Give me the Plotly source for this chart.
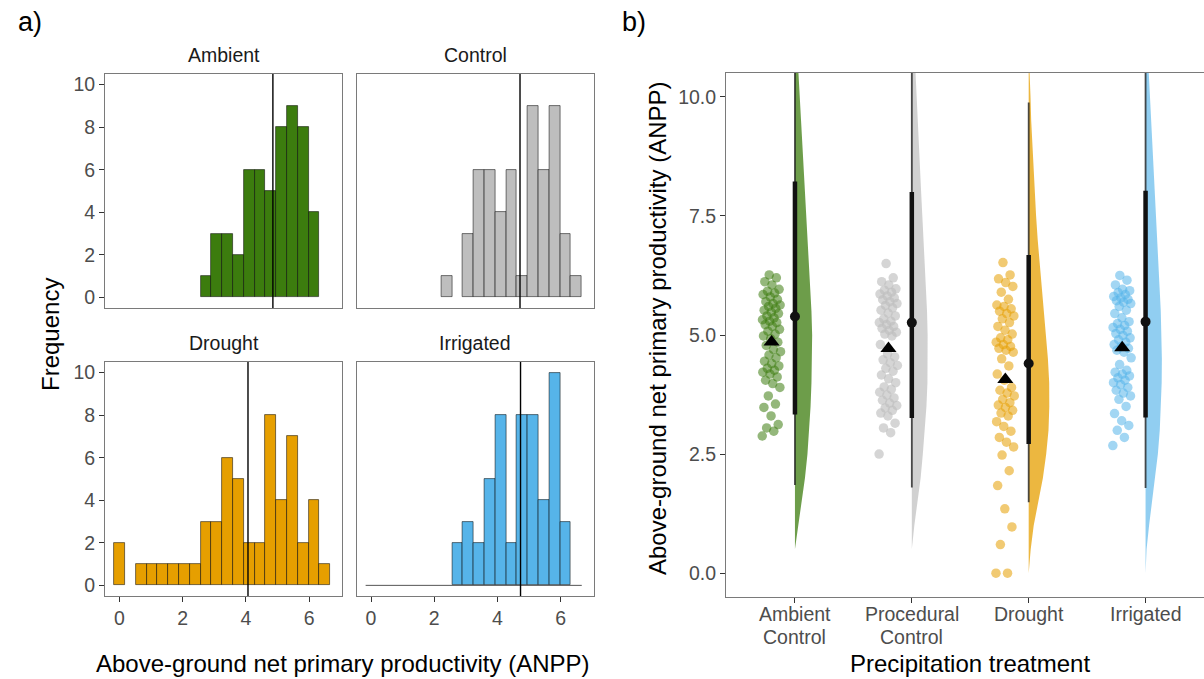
import numpy as np
import plotly.graph_objects as go

# ---------------- data ----------------
BIN_START = -0.171
BIN_SIZE = 0.342
N_BINS = 20

ambient = [2.88, 2.98, 3.05, 3.12, 3.30, 3.48, 3.55, 3.72, 3.90,
           3.98, 4.05, 4.12, 4.18, 4.22, 4.26, 4.30, 4.35, 4.40, 4.45, 4.52, 4.58,
           4.65, 4.70, 4.78, 4.85, 4.92, 4.98, 5.02, 5.08, 5.12, 5.18, 5.22, 5.26, 5.29,
           5.32, 5.36, 5.40, 5.45, 5.48, 5.52, 5.56, 5.60, 5.63,
           5.66, 5.70, 5.75, 5.80, 5.85, 5.88, 5.92, 5.96, 6.05, 6.12, 6.20, 6.26]
control = [2.50, 2.95, 3.05, 3.15, 3.30, 3.36, 3.42, 3.47, 3.52, 3.57,
           3.63, 3.68, 3.74, 3.80, 3.86, 3.91, 4.00, 4.08, 4.16, 4.24,
           4.30, 4.36, 4.42, 4.48, 4.54, 4.60, 4.80,
           4.98, 5.02, 5.06, 5.10, 5.14, 5.18, 5.22, 5.26, 5.29,
           5.34, 5.40, 5.46, 5.52, 5.57, 5.62,
           5.66, 5.70, 5.74, 5.78, 5.82, 5.86, 5.90, 5.94, 5.97,
           6.05, 6.12, 6.20, 6.50]
drought = [0.00, 0.00, 0.60, 0.97, 1.35, 1.84, 2.15, 2.48,
           2.65, 2.75, 2.85, 2.98, 3.08, 3.18, 3.30, 3.36, 3.42, 3.48, 3.53, 3.58,
           3.65, 3.72, 3.78, 3.84, 3.90, 4.05, 4.18, 4.35, 4.50,
           4.64, 4.68, 4.72, 4.76, 4.80, 4.85, 4.90, 4.94,
           5.02, 5.10, 5.18, 5.26, 5.34, 5.40, 5.45, 5.50, 5.55, 5.60, 5.63,
           5.75, 5.90, 6.02, 6.10, 6.18, 6.26, 6.52]
irrigated = [2.68, 2.85, 3.00, 3.10, 3.20, 3.35, 3.50,
             3.65, 3.72, 3.78, 3.84, 3.90, 3.96, 4.00, 4.05, 4.10, 4.14, 4.18, 4.22, 4.26,
             4.38, 4.52, 4.64, 4.68, 4.72, 4.76, 4.80, 4.85, 4.90, 4.94,
             4.99, 5.03, 5.08, 5.12, 5.16, 5.20, 5.24, 5.28,
             5.36, 5.45, 5.52, 5.60,
             5.66, 5.69, 5.72, 5.75, 5.78, 5.81, 5.85, 5.89, 5.93, 5.96,
             6.05, 6.15, 6.25]

facet_titles = ["Ambient", "Control", "Drought", "Irrigated"]
cat_labels = [["Ambient", "Control"], ["Procedural", "Control"], ["Drought"], ["Irrigated"]]

# posterior summaries (panel b)
medians = [5.39, 5.26, 4.40, 5.28]
ci66_lo = [3.33, 3.26, 2.71, 3.27]
ci66_hi = [8.22, 8.00, 6.68, 8.03]
ci95_lo = [1.85, 1.80, 1.49, 1.79]
ci95_hi = [11.5, 11.5, 9.88, 11.5]

# posterior density (arbitrary units) on a common grid
dens_y = [0.0, 0.5, 1.0, 1.5, 2.0, 2.5, 3.0, 3.5, 4.0, 4.5, 5.0, 5.5,
          6.0, 6.5, 7.0, 7.5, 8.0, 8.5, 9.0, 9.5, 10.0, 10.5, 11.0]
dens_ambient = [0, 0, 3.3, 7.0, 10.0, 12.5, 14.2, 15.6, 16.5, 17.2, 17.2, 16.5,
                15.3, 14.0, 12.7, 11.3, 10.0, 8.7, 7.4, 6.1, 4.8, 3.5, 2.2]
dens_control = [0, 0, 2.5, 6.0, 8.8, 11.0, 13.0, 14.6, 15.6, 16.0, 15.8, 15.2,
                14.2, 13.0, 11.8, 10.5, 9.3, 8.1, 7.0, 5.9, 4.8, 3.7, 2.6]
dens_drought = [0, 2.0, 5.0, 9.5, 14.2, 17.5, 19.8, 20.6, 20.5, 19.2, 17.2, 14.5,
                12.5, 10.7, 9.0, 7.4, 6.0, 4.7, 3.5, 2.5, 1.8, 1.3, 0.8]
dens_irrigated = [0, 1.0, 3.5, 6.3, 9.5, 12.3, 14.2, 15.4, 16.1, 16.3, 16.0, 15.2,
                  14.0, 12.8, 11.3, 10.0, 8.6, 7.3, 6.1, 5.0, 3.9, 2.9, 2.0]

# ---------------- styling ----------------
W, H = 1204, 679
FONT = "Liberation Sans, Arial, sans-serif"
hist_fill = ["#3C7C0E", "#BEBEBE", "#E69F00", "#56B4E9"]
violin_fill = ["rgba(60,124,14,0.75)", "rgba(190,190,190,0.7)",
               "rgba(230,159,0,0.75)", "rgba(86,180,233,0.65)"]
point_col = ["rgba(60,124,14,0.55)", "rgba(190,190,190,0.65)",
             "rgba(230,159,0,0.55)", "rgba(86,180,233,0.55)"]
BORDER = "#7a7a7a"
TICKC = "#4d4d4d"
DENS_SCALE = 1 / 116.8   # density units -> category units
TICK_SIZE = 19.5
TITLE_SIZE = 24

series = [ambient, control, drought, irrigated]
dens_all = [dens_ambient, dens_control, dens_drought, dens_irrigated]


def dom_x(a, b):
    return [a / W, b / W]


def dom_y(top, bottom):
    return [1 - bottom / H, 1 - top / H]


facet_boxes = [(105, 342, 74, 308), (356.5, 593.5, 74, 308),
               (105, 342, 362, 596), (356.5, 593.5, 362, 596)]

fig = go.Figure()
layout = dict(width=W, height=H, margin=dict(l=0, r=0, t=0, b=0),
              paper_bgcolor="white", plot_bgcolor="white", showlegend=False,
              bargap=0, font=dict(family=FONT, color="#1a1a1a"))
shapes, annotations = [], []

for i, (vals, box) in enumerate(zip(series, facet_boxes)):
    k = "" if i == 0 else str(i + 1)
    xa, ya = "x" + k, "y" + k
    fig.add_trace(go.Histogram(
        x=vals, xaxis=xa, yaxis=ya, autobinx=False,
        xbins=dict(start=BIN_START, end=BIN_START + N_BINS * BIN_SIZE, size=BIN_SIZE),
        marker=dict(color=hist_fill[i], line=dict(color="rgba(0,0,0,0.65)", width=0.8))))
    bottom_row = i >= 2
    left_col = i % 2 == 0
    layout["xaxis" + k] = dict(
        domain=dom_x(box[0], box[1]), anchor=ya, range=[-0.46, 7.04],
        showgrid=False, zeroline=False, showline=True, mirror=True,
        linecolor=BORDER, linewidth=1,
        tickvals=[0, 2, 4, 6] if bottom_row else [],
        ticks="outside" if bottom_row else "", ticklen=5, tickcolor="#333",
        showticklabels=bottom_row, tickfont=dict(size=TICK_SIZE, color=TICKC, family=FONT))
    layout["yaxis" + k] = dict(
        domain=dom_y(box[2], box[3]), anchor=xa, range=[-0.5, 10.5],
        showgrid=False, zeroline=False, showline=True, mirror=True,
        linecolor=BORDER, linewidth=1,
        tickvals=[0, 2, 4, 6, 8, 10] if left_col else [],
        ticks="outside" if left_col else "", ticklen=5, tickcolor="#333",
        showticklabels=left_col, tickfont=dict(size=TICK_SIZE, color=TICKC, family=FONT))
    # mean line
    m = float(np.mean(vals))
    shapes.append(dict(type="line", xref=xa, yref=ya + " domain", x0=m, x1=m, y0=0, y1=1,
                       line=dict(color="black", width=1.4)))
    # strip title
    annotations.append(dict(text=facet_titles[i], xref="paper", yref="paper",
                            x=(box[0] + box[1]) / 2 / W, y=1 - (box[2] - 19) / H,
                            xanchor="center", yanchor="middle", showarrow=False,
                            font=dict(size=TICK_SIZE, color="#1a1a1a", family=FONT)))

# baseline drawn by the empty bins of the Irrigated histogram
fig.add_trace(go.Scatter(x=[BIN_START, BIN_START + N_BINS * BIN_SIZE], y=[0, 0],
                         xaxis="x4", yaxis="y4", mode="lines",
                         line=dict(color="#555", width=1), hoverinfo="skip"))

# ---------------- panel b ----------------
for i in range(4):
    g = i + 1
    d = dens_all[i]
    xs = [g] + [g + w * DENS_SCALE for w in d] + [g]
    ys = [dens_y[0]] + dens_y + [dens_y[-1]]
    fig.add_trace(go.Scatter(x=xs, y=ys, xaxis="x5", yaxis="y5", mode="lines",
                             fill="toself", fillcolor=violin_fill[i],
                             line=dict(width=0, color=violin_fill[i]), hoverinfo="skip"))
for i in range(4):
    g = i + 1
    fig.add_trace(go.Scatter(x=[g, g], y=[ci95_lo[i], ci95_hi[i]], xaxis="x5", yaxis="y5",
                             mode="lines", line=dict(color="rgba(30,30,30,0.8)", width=1.8)))
    fig.add_trace(go.Scatter(x=[g, g], y=[ci66_lo[i], ci66_hi[i]], xaxis="x5", yaxis="y5",
                             mode="lines", line=dict(color="#111111", width=4.5)))
    fig.add_trace(go.Scatter(x=[g], y=[medians[i]], xaxis="x5", yaxis="y5", mode="markers",
                             marker=dict(color="#111111", size=10)))
for i, vals in enumerate(series):
    g = i + 1
    n = len(vals)
    jit = ((np.arange(n) * 0.6180339887) % 1.0 - 0.5) * 2 * 0.08
    fig.add_trace(go.Scatter(x=g - 0.2 + jit, y=vals, xaxis="x5", yaxis="y5", mode="markers",
                             marker=dict(color=point_col[i], size=9.5, line=dict(width=0))))
    fig.add_trace(go.Scatter(x=[g - 0.2], y=[float(np.mean(vals))], xaxis="x5", yaxis="y5",
                             mode="markers",
                             marker=dict(color="black", size=14, symbol="triangle-up")))

layout["xaxis5"] = dict(domain=dom_x(726, 1204), anchor="y5", range=[0.41, 4.5],
                        showgrid=False, zeroline=False, showline=True, mirror=True,
                        linecolor=BORDER, linewidth=1, tickvals=[1, 2, 3, 4],
                        showticklabels=False,
                        ticks="outside", ticklen=5, tickcolor="#333")
layout["yaxis5"] = dict(domain=dom_y(73, 597), anchor="x5", range=[-0.5, 10.5],
                        showgrid=False, zeroline=False, showline=True, mirror=False,
                        linecolor=BORDER, linewidth=1, tickvals=[0, 2.5, 5, 7.5, 10],
                        ticktext=["0.0", "2.5", "5.0", "7.5", "10.0"],
                        ticks="outside", ticklen=5, tickcolor="#333",
                        tickfont=dict(size=TICK_SIZE, color=TICKC, family=FONT))

# category labels (two tight lines)
for i, lines in enumerate(cat_labels):
    for j, line in enumerate(lines):
        annotations.append(dict(text=line, xref="x5", yref="paper", x=i + 1,
                                y=1 - (614 + 23 * j) / H, xanchor="center", yanchor="middle",
                                showarrow=False,
                                font=dict(size=TICK_SIZE, color=TICKC, family=FONT)))


def ann(text, x, y, size, angle=0):
    annotations.append(dict(text=text, xref="paper", yref="paper", x=x / W, y=1 - y / H,
                            xanchor="center", yanchor="middle", showarrow=False, textangle=angle,
                            font=dict(size=size, color="black", family=FONT)))


ann("a)", 30, 22, 27)
ann("b)", 634, 22, 27)
ann("Frequency", 50, 335, TITLE_SIZE, -90)
ann("Above-ground net primary productivity (ANPP)", 343, 663, TITLE_SIZE)
ann("Above-ground net primary productivity (ANPP)", 657, 328, TITLE_SIZE, -90)
ann("Precipitation treatment", 970, 663, TITLE_SIZE)

layout["shapes"] = shapes
layout["annotations"] = annotations
fig.update_layout(**layout)
fig.write_html("out.html")
